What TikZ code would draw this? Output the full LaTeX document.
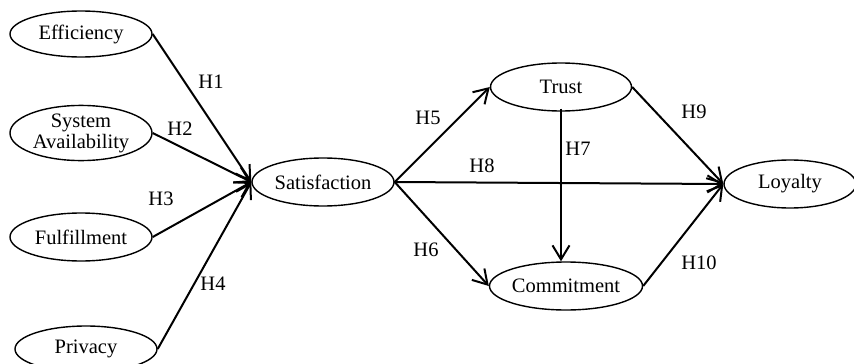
\documentclass[tikz,border=0pt]{standalone}
\usepackage{fontspec}
\setmainfont{Liberation Serif}
\usetikzlibrary{shapes.geometric,arrows.meta}
\begin{document}
\begin{tikzpicture}[x=1pt,y=-1pt,
  construct/.style={ellipse,draw,line width=1.4pt,inner sep=0pt,minimum width=142pt,minimum height=46pt,font=\fontsize{20.5}{20.5}\selectfont,align=center},
  path/.style={line width=2pt,-{Straight Barb[length=14pt,width=17pt,line width=2pt]}},
  hlabel/.style={font=\fontsize{20.5}{20.5}\selectfont,inner sep=0pt}]
\useasboundingbox (0,0) rectangle (854,364);
\node[construct] (eff) at (81,34) {Efficiency};
\node[construct,minimum height=42pt,font=\fontsize{20.5}{21}\selectfont] (sys) at (81,133) {System\\Availability};
\node[construct,minimum height=48pt] (ful) at (81,237) {Fulfillment};
\node[construct] (pri) at (86,349) {Privacy};
\node[construct,minimum height=48pt] (sat) at (323,182) {Satisfaction};
\node[construct,minimum height=48pt,minimum width=141pt] (tru) at (561,87) {Trust};
\node[construct,minimum height=48pt] (com) at (566,286) {Commitment};
\node[construct,minimum height=48pt,minimum width=132pt] (loy) at (790,184) {Loyalty};
\draw[path] (eff.east) -- (sat.west);
\draw[path] (sys.east) -- (sat.west);
\draw[path] (ful.east) -- (sat.west);
\draw[path] (pri.east) -- (sat.west);
\draw[path] (sat.east) -- (tru.west);
\draw[path] (sat.east) -- (com.west);
\draw[path] (sat.east) -- (loy.west);
\draw[path] (tru.east) -- (loy.west);
\draw[path] (com.east) -- (loy.west);
\coordinate (t7) at ([yshift=3pt]tru.south);
\draw[path] (t7) -- (t7 |- com.north);
\node[hlabel] (h1) at (211,82) {H1};
\node[hlabel] (h2) at (180,129) {H2};
\node[hlabel] (h3) at (161,199) {H3};
\node[hlabel] (h4) at (213,284) {H4};
\node[hlabel] (h5) at (428,118) {H5};
\node[hlabel] (h6) at (426,250) {H6};
\node[hlabel] (h7) at (578,149) {H7};
\node[hlabel] (h8) at (482,166) {H8};
\node[hlabel] (h9) at (694,112) {H9};
\node[hlabel] (h10) at (699,263) {H10};
\end{tikzpicture}
\end{document}
